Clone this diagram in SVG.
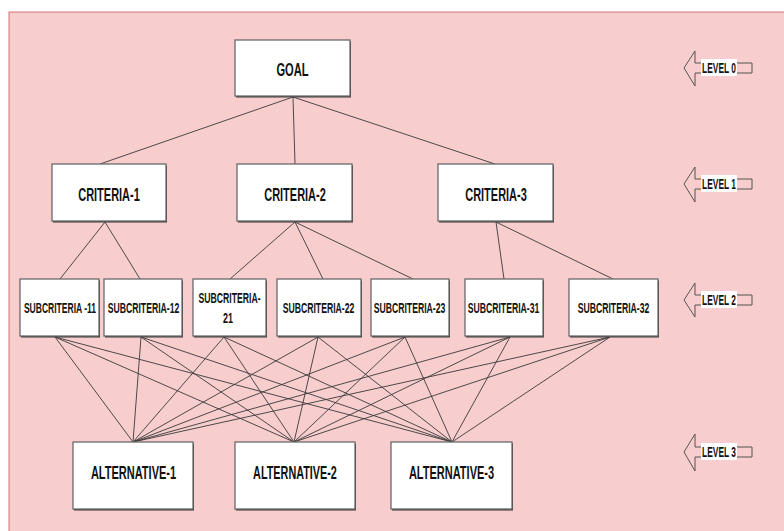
<svg xmlns="http://www.w3.org/2000/svg" width="784" height="531" viewBox="0 0 784 531">
<style>
.bx{fill:#ffffff;stroke:#6a6a6a;stroke-width:1.3}
.sh{fill:#3a3a3a}
.t{font-family:"Liberation Sans",Arial,sans-serif;font-weight:bold;fill:#111;text-anchor:middle}
.ln{stroke:#3a3a3a;stroke-width:0.9;fill:none}
.arr{fill:none;stroke:#555;stroke-width:1}
.lb{fill:#ffffff}
</style>
<rect x="0" y="0" width="784" height="531" fill="#ffffff"/>
<rect x="9" y="12" width="790" height="530" fill="#f7cdcd" stroke="#d27474" stroke-width="1"/>
<g id="connectors">
<line class="ln" x1="293" y1="97" x2="100" y2="164"/>
<line class="ln" x1="293" y1="97" x2="295" y2="164"/>
<line class="ln" x1="293" y1="97" x2="495" y2="164"/>
<line class="ln" x1="105" y1="222" x2="60" y2="279"/>
<line class="ln" x1="105" y1="222" x2="140" y2="279"/>
<line class="ln" x1="295" y1="222" x2="230" y2="279"/>
<line class="ln" x1="295" y1="222" x2="323" y2="279"/>
<line class="ln" x1="295" y1="222" x2="413" y2="279"/>
<line class="ln" x1="496" y1="222" x2="504" y2="279"/>
<line class="ln" x1="496" y1="222" x2="613" y2="279"/>
<line class="ln" x1="55" y1="337" x2="133" y2="442"/>
<line class="ln" x1="55" y1="337" x2="294" y2="442"/>
<line class="ln" x1="55" y1="337" x2="452" y2="442"/>
<line class="ln" x1="141" y1="337" x2="133" y2="442"/>
<line class="ln" x1="141" y1="337" x2="294" y2="442"/>
<line class="ln" x1="141" y1="337" x2="452" y2="442"/>
<line class="ln" x1="224" y1="337" x2="133" y2="442"/>
<line class="ln" x1="224" y1="337" x2="294" y2="442"/>
<line class="ln" x1="224" y1="337" x2="452" y2="442"/>
<line class="ln" x1="318" y1="337" x2="133" y2="442"/>
<line class="ln" x1="318" y1="337" x2="294" y2="442"/>
<line class="ln" x1="318" y1="337" x2="452" y2="442"/>
<line class="ln" x1="405" y1="337" x2="133" y2="442"/>
<line class="ln" x1="405" y1="337" x2="294" y2="442"/>
<line class="ln" x1="405" y1="337" x2="452" y2="442"/>
<line class="ln" x1="510" y1="337" x2="133" y2="442"/>
<line class="ln" x1="510" y1="337" x2="294" y2="442"/>
<line class="ln" x1="510" y1="337" x2="452" y2="442"/>
<line class="ln" x1="610" y1="337" x2="133" y2="442"/>
<line class="ln" x1="610" y1="337" x2="294" y2="442"/>
<line class="ln" x1="610" y1="337" x2="452" y2="442"/>
</g>
<g id="goal">
<rect class="sh" x="236" y="41.5" width="115" height="56"/>
<rect class="bx" x="235" y="40" width="115" height="56"/>
<text class="t" font-size="18" transform="translate(292.5,76) scale(0.62,1)">GOAL</text>
</g>
<g id="criteria-1">
<rect class="sh" x="53" y="165.5" width="114" height="57"/>
<rect class="bx" x="52" y="164" width="114" height="57"/>
<text class="t" font-size="18" transform="translate(109,201) scale(0.61,1)">CRITERIA-1</text>
</g>
<g id="criteria-2">
<rect class="sh" x="238" y="165.5" width="115" height="57"/>
<rect class="bx" x="237" y="164" width="115" height="57"/>
<text class="t" font-size="18" transform="translate(295,201) scale(0.61,1)">CRITERIA-2</text>
</g>
<g id="criteria-3">
<rect class="sh" x="439" y="165.5" width="115" height="57"/>
<rect class="bx" x="438" y="164" width="115" height="57"/>
<text class="t" font-size="18" transform="translate(496,201) scale(0.61,1)">CRITERIA-3</text>
</g>
<g id="subcriteria-11">
<rect class="sh" x="21" y="280.5" width="79" height="57"/>
<rect class="bx" x="20" y="279" width="79" height="57"/>
<text class="t" font-size="14" transform="translate(60,313) scale(0.61,1)">SUBCRITERIA -11</text>
</g>
<g id="subcriteria-12">
<rect class="sh" x="105" y="280.5" width="78" height="57"/>
<rect class="bx" x="104" y="279" width="78" height="57"/>
<text class="t" font-size="14" transform="translate(143.5,313) scale(0.62,1)">SUBCRITERIA-12</text>
</g>
<g id="subcriteria-21">
<rect class="sh" x="194" y="280.5" width="73" height="57"/>
<rect class="bx" x="193" y="279" width="73" height="57"/>
<text class="t" font-size="14" transform="translate(229.5,303) scale(0.62,1)">SUBCRITERIA-</text>
<text class="t" font-size="14" transform="translate(228,323) scale(0.64,1)">21</text>
</g>
<g id="subcriteria-22">
<rect class="sh" x="278" y="280.5" width="84" height="57"/>
<rect class="bx" x="277" y="279" width="84" height="57"/>
<text class="t" font-size="14" transform="translate(318.5,313) scale(0.62,1)">SUBCRITERIA-22</text>
</g>
<g id="subcriteria-23">
<rect class="sh" x="372" y="280.5" width="78" height="57"/>
<rect class="bx" x="371" y="279" width="78" height="57"/>
<text class="t" font-size="14" transform="translate(409.5,313) scale(0.62,1)">SUBCRITERIA-23</text>
</g>
<g id="subcriteria-31">
<rect class="sh" x="466" y="280.5" width="78" height="57"/>
<rect class="bx" x="465" y="279" width="78" height="57"/>
<text class="t" font-size="14" transform="translate(503.5,313) scale(0.62,1)">SUBCRITERIA-31</text>
</g>
<g id="subcriteria-32">
<rect class="sh" x="570" y="280.5" width="89" height="57"/>
<rect class="bx" x="569" y="279" width="89" height="57"/>
<text class="t" font-size="14" transform="translate(613.5,313) scale(0.62,1)">SUBCRITERIA-32</text>
</g>
<g id="alternative-1">
<rect class="sh" x="74" y="443.5" width="120" height="67"/>
<rect class="bx" x="73" y="442" width="120" height="67"/>
<text class="t" font-size="19" transform="translate(133.5,479) scale(0.58,1)">ALTERNATIVE-1</text>
</g>
<g id="alternative-2">
<rect class="sh" x="236" y="443.5" width="120" height="67"/>
<rect class="bx" x="235" y="442" width="120" height="67"/>
<text class="t" font-size="19" transform="translate(295,479) scale(0.57,1)">ALTERNATIVE-2</text>
</g>
<g id="alternative-3">
<rect class="sh" x="392" y="443.5" width="121" height="67"/>
<rect class="bx" x="391" y="442" width="121" height="67"/>
<text class="t" font-size="19" transform="translate(451.5,479) scale(0.58,1)">ALTERNATIVE-3</text>
</g>
<g id="level-0">
<polygon class="arr" points="684,68 695,51 695,63 752,63 752,73 695,73 695,86"/>
<rect class="lb" x="701" y="59" width="36" height="17"/>
<text class="t" font-size="14" transform="translate(719,72.5) scale(0.6,1)">LEVEL 0</text>
</g>
<g id="level-1">
<polygon class="arr" points="684,184 695,167 695,179 752,179 752,189 695,189 695,202"/>
<rect class="lb" x="701" y="175" width="36" height="17"/>
<text class="t" font-size="14" transform="translate(719,188.5) scale(0.6,1)">LEVEL 1</text>
</g>
<g id="level-2">
<polygon class="arr" points="684,300 695,283 695,295 752,295 752,305 695,305 695,317"/>
<rect class="lb" x="701" y="291" width="36" height="17"/>
<text class="t" font-size="14" transform="translate(719,304.5) scale(0.6,1)">LEVEL 2</text>
</g>
<g id="level-3">
<polygon class="arr" points="684,452 695,434 695,447 752,447 752,457 695,457 695,471"/>
<rect class="lb" x="701" y="443" width="36" height="17"/>
<text class="t" font-size="14" transform="translate(719,456.5) scale(0.6,1)">LEVEL 3</text>
</g>
</svg>
